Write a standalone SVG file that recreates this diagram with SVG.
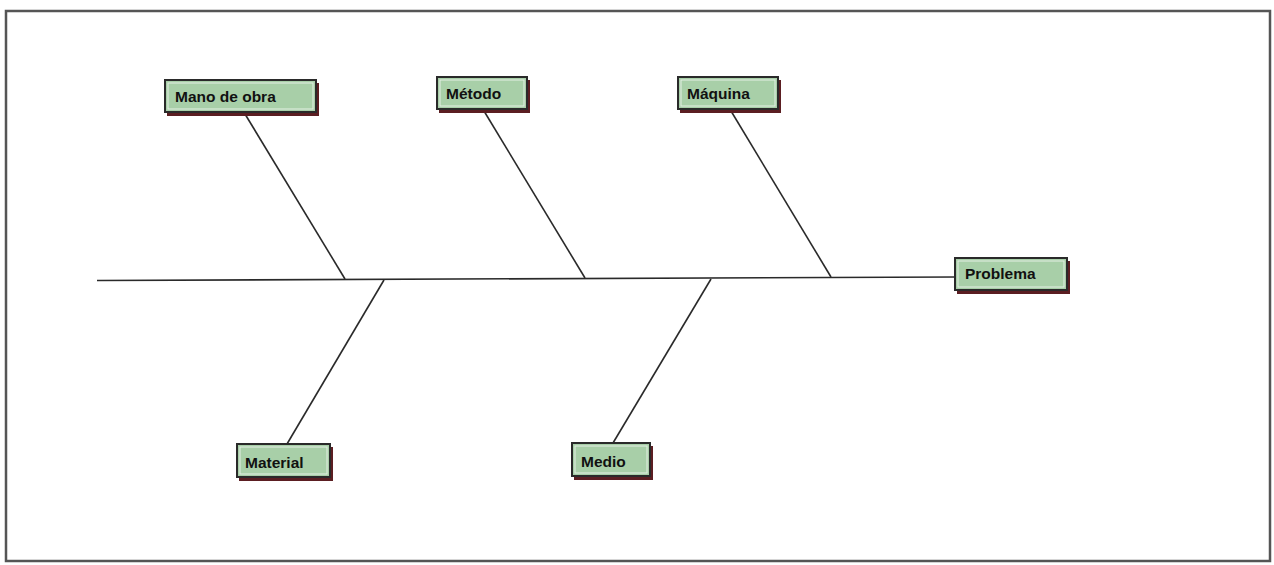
<svg xmlns="http://www.w3.org/2000/svg" width="1274" height="565" viewBox="0 0 1274 565">
<style>
.sh{fill:#5b1e22}
.bx{fill:#a8cfa8;stroke:#2a2a2a;stroke-width:2}
.in{fill:none;stroke:#e4f0e4;stroke-width:1}
.t{font-family:"Liberation Sans",Arial,sans-serif;font-weight:bold;font-size:15.5px;fill:#111}
.ln{stroke:#2a2a2a;stroke-width:1.6;fill:none}
</style>
<rect x="0" y="0" width="1274" height="565" fill="#ffffff"/>
<rect x="6" y="11" width="1264" height="550" fill="none" stroke="#555" stroke-width="2.5"/>
<g id="connectors">
<line class="ln" x1="97" y1="280.5" x2="956" y2="277"/>
<line class="ln" x1="245" y1="114" x2="345" y2="279"/>
<line class="ln" x1="484" y1="111" x2="585" y2="278"/>
<line class="ln" x1="731" y1="111" x2="831" y2="277"/>
<line class="ln" x1="384" y1="280" x2="287" y2="444"/>
<line class="ln" x1="711" y1="279" x2="613" y2="443"/>
</g>
<g id="mano">
<rect class="sh" x="167" y="83" width="152" height="33"/>
<rect class="bx" x="165" y="80" width="151" height="32"/>
<rect class="in" x="168" y="83" width="145" height="26"/>
<text class="t" x="175" y="102">Mano de obra</text>
</g>
<g id="metodo">
<rect class="sh" x="439" y="80" width="91" height="33"/>
<rect class="bx" x="437" y="77" width="90" height="32"/>
<rect class="in" x="440" y="80" width="84" height="26"/>
<text class="t" x="446" y="99">Método</text>
</g>
<g id="maquina">
<rect class="sh" x="680" y="80" width="101" height="33"/>
<rect class="bx" x="678" y="77" width="100" height="32"/>
<rect class="in" x="681" y="80" width="94" height="26"/>
<text class="t" x="687" y="99">Máquina</text>
</g>
<g id="problema">
<rect class="sh" x="957" y="261" width="113" height="33"/>
<rect class="bx" x="955" y="258" width="112" height="32"/>
<rect class="in" x="958" y="261" width="106" height="26"/>
<text class="t" x="965" y="279">Problema</text>
</g>
<g id="material">
<rect class="sh" x="239" y="447" width="94" height="34"/>
<rect class="bx" x="237" y="444" width="93" height="33"/>
<rect class="in" x="240" y="447" width="87" height="27"/>
<text class="t" x="245" y="468">Material</text>
</g>
<g id="medio">
<rect class="sh" x="574" y="446" width="79" height="34"/>
<rect class="bx" x="572" y="443" width="78" height="33"/>
<rect class="in" x="575" y="446" width="72" height="27"/>
<text class="t" x="581" y="467">Medio</text>
</g>
</svg>
